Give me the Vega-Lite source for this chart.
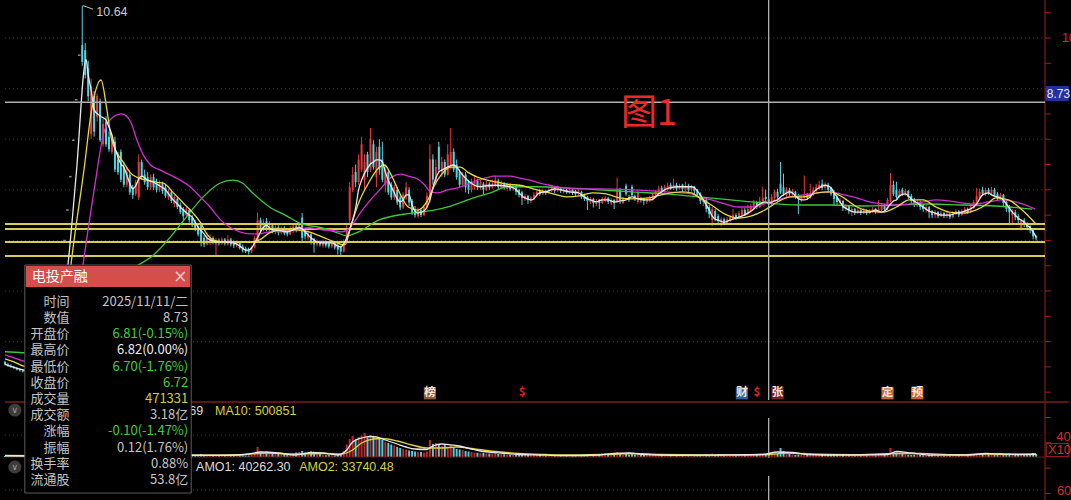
{
  "$schema": "https://vega.github.io/schema/vega-lite/v6.json",
  "width": 1050,
  "height": 500,
  "autosize": {"type": "none"},
  "padding": {"left": 0, "top": 0, "right": 21, "bottom": 0},
  "background": "#000000",
  "config": {"view": {"stroke": null}},
  "datasets": {
    "one": [{}],
    "k": [
      {"t":0,"o":3.60,"h":3.62,"l":3.53,"c":3.55,"v":180000},{"t":1,"o":3.55,"h":3.58,"l":3.50,"c":3.52,"v":160000},{"t":2,"o":3.52,"h":3.55,"l":3.48,"c":3.50,"v":150000},{"t":3,"o":3.50,"h":3.52,"l":3.46,"c":3.48,"v":150000},{"t":4,"o":3.48,"h":3.50,"l":3.43,"c":3.45,"v":170000},{"t":5,"o":3.45,"h":3.47,"l":3.41,"c":3.43,"v":140000},{"t":6,"o":3.43,"h":3.46,"l":3.39,"c":3.41,"v":150000},{"t":7,"o":3.41,"h":3.43,"l":3.37,"c":3.39,"v":140000},{"t":8,"o":3.39,"h":3.43,"l":3.37,"c":3.41,"v":150000},{"t":9,"o":3.41,"h":3.42,"l":3.36,"c":3.38,"v":140000},
      {"t":10,"o":3.38,"h":3.42,"l":3.36,"c":3.40,"v":130000},{"t":11,"o":3.40,"h":3.41,"l":3.35,"c":3.37,"v":140000},{"t":12,"o":3.37,"h":3.41,"l":3.35,"c":3.39,"v":150000},{"t":13,"o":3.39,"h":3.40,"l":3.34,"c":3.36,"v":140000},{"t":14,"o":3.36,"h":3.40,"l":3.34,"c":3.38,"v":160000},
      {"t":15,"o":3.72,"h":3.72,"l":3.72,"c":3.72,"v":40000},{"t":16,"o":4.09,"h":4.09,"l":4.09,"c":4.09,"v":30000},{"t":17,"o":4.50,"h":4.50,"l":4.50,"c":4.50,"v":30000},{"t":18,"o":4.95,"h":4.95,"l":4.95,"c":4.95,"v":30000},{"t":19,"o":5.45,"h":5.45,"l":5.45,"c":5.45,"v":30000},{"t":20,"o":6.00,"h":6.00,"l":6.00,"c":6.00,"v":30000},{"t":21,"o":6.60,"h":6.60,"l":6.60,"c":6.60,"v":40000},{"t":22,"o":7.26,"h":7.26,"l":7.26,"c":7.26,"v":40000},{"t":23,"o":7.98,"h":7.98,"l":7.98,"c":7.98,"v":50000},{"t":24,"o":8.78,"h":8.78,"l":8.78,"c":8.78,"v":60000},{"t":25,"o":9.66,"h":9.66,"l":9.66,"c":9.66,"v":80000},
      {"t":26,"o":9.86,"h":10.64,"l":9.45,"c":9.53,"v":9000000},{"t":27,"o":9.76,"h":9.90,"l":9.20,"c":9.27,"v":7500000},{"t":28,"o":9.40,"h":9.55,"l":8.75,"c":8.85,"v":6800000},{"t":29,"o":8.10,"h":9.20,"l":8.00,"c":9.05,"v":7000000},{"t":30,"o":8.85,"h":8.95,"l":8.05,"c":8.15,"v":6000000},{"t":31,"o":8.44,"h":8.90,"l":8.35,"c":8.85,"v":5200000},{"t":32,"o":8.75,"h":8.80,"l":7.95,"c":7.98,"v":5000000},{"t":33,"o":7.90,"h":8.40,"l":7.85,"c":8.30,"v":4600000},{"t":34,"o":8.35,"h":8.45,"l":7.85,"c":7.90,"v":4200000},{"t":35,"o":8.05,"h":8.15,"l":7.75,"c":7.80,"v":3800000},
      {"t":36,"o":7.75,"h":8.10,"l":7.70,"c":8.00,"v":3600000},{"t":37,"o":7.95,"h":8.05,"l":7.35,"c":7.40,"v":3500000},{"t":38,"o":7.60,"h":7.75,"l":7.30,"c":7.35,"v":3000000},{"t":39,"o":7.75,"h":7.80,"l":7.15,"c":7.20,"v":3200000},{"t":40,"o":7.45,"h":7.55,"l":7.05,"c":7.10,"v":2800000},{"t":41,"o":7.10,"h":7.45,"l":7.05,"c":7.35,"v":2600000},{"t":42,"o":7.30,"h":7.35,"l":6.90,"c":6.95,"v":2700000},{"t":43,"o":7.05,"h":7.10,"l":6.82,"c":6.90,"v":2400000},{"t":44,"o":6.92,"h":7.20,"l":6.88,"c":7.15,"v":2200000},{"t":45,"o":6.85,"h":7.70,"l":6.80,"c":7.55,"v":2900000},
      {"t":46,"o":7.55,"h":7.60,"l":7.20,"c":7.25,"v":2300000},{"t":47,"o":7.30,"h":7.40,"l":7.10,"c":7.15,"v":2100000},{"t":48,"o":7.25,"h":7.35,"l":7.00,"c":7.05,"v":2000000},{"t":49,"o":7.05,"h":7.30,"l":7.00,"c":7.25,"v":2100000},{"t":50,"o":7.25,"h":7.32,"l":7.00,"c":7.05,"v":1900000},{"t":51,"o":7.15,"h":7.22,"l":6.95,"c":7.00,"v":1800000},{"t":52,"o":7.00,"h":7.18,"l":6.96,"c":7.12,"v":1700000},{"t":53,"o":7.12,"h":7.16,"l":6.92,"c":6.98,"v":1800000},{"t":54,"o":7.05,"h":7.10,"l":6.84,"c":6.88,"v":1600000},{"t":55,"o":6.85,"h":7.02,"l":6.80,"c":6.98,"v":1500000},
      {"t":56,"o":6.95,"h":7.00,"l":6.74,"c":6.78,"v":1600000},{"t":57,"o":6.72,"h":6.90,"l":6.66,"c":6.86,"v":1400000},{"t":58,"o":6.82,"h":6.86,"l":6.62,"c":6.66,"v":1300000},{"t":59,"o":6.70,"h":6.75,"l":6.52,"c":6.56,"v":1400000},{"t":60,"o":6.62,"h":6.66,"l":6.40,"c":6.48,"v":1200000},{"t":61,"o":6.50,"h":6.66,"l":6.46,"c":6.62,"v":1300000},{"t":62,"o":6.60,"h":6.63,"l":6.35,"c":6.40,"v":1200000},{"t":63,"o":6.45,"h":6.50,"l":6.26,"c":6.30,"v":500000},{"t":64,"o":6.35,"h":6.40,"l":6.18,"c":6.22,"v":400000},{"t":65,"o":6.26,"h":6.30,"l":6.08,"c":6.12,"v":450000},
      {"t":66,"o":6.30,"h":6.35,"l":5.88,"c":5.95,"v":600000},{"t":67,"o":6.05,"h":6.10,"l":5.87,"c":5.92,"v":400000},{"t":68,"o":5.92,"h":6.10,"l":5.90,"c":6.05,"v":350000},{"t":69,"o":5.95,"h":6.12,"l":5.90,"c":6.05,"v":400000},{"t":70,"o":6.05,"h":6.08,"l":5.92,"c":5.95,"v":300000},{"t":71,"o":5.92,"h":6.05,"l":5.70,"c":6.00,"v":350000},{"t":72,"o":6.00,"h":6.04,"l":5.90,"c":5.94,"v":300000},{"t":73,"o":5.94,"h":6.06,"l":5.91,"c":6.02,"v":300000},{"t":74,"o":6.02,"h":6.05,"l":5.90,"c":5.94,"v":350000},{"t":75,"o":5.92,"h":6.10,"l":5.90,"c":6.02,"v":300000},
      {"t":76,"o":6.02,"h":6.05,"l":5.88,"c":5.92,"v":280000},{"t":77,"o":5.96,"h":6.00,"l":5.85,"c":5.90,"v":300000},{"t":78,"o":5.90,"h":6.00,"l":5.86,"c":5.96,"v":320000},{"t":79,"o":5.96,"h":5.98,"l":5.82,"c":5.85,"v":350000},{"t":80,"o":5.88,"h":5.92,"l":5.76,"c":5.80,"v":300000},{"t":81,"o":5.84,"h":5.88,"l":5.75,"c":5.78,"v":280000},{"t":82,"o":5.82,"h":5.86,"l":5.72,"c":5.77,"v":300000},{"t":83,"o":5.78,"h":5.90,"l":5.75,"c":5.86,"v":400000},{"t":84,"o":5.86,"h":6.08,"l":5.84,"c":6.05,"v":600000},{"t":85,"o":5.98,"h":6.55,"l":5.95,"c":6.40,"v":2000000},
      {"t":86,"o":6.40,"h":6.45,"l":6.15,"c":6.20,"v":900000},{"t":87,"o":6.20,"h":6.42,"l":6.18,"c":6.35,"v":800000},{"t":88,"o":6.38,"h":6.44,"l":6.18,"c":6.22,"v":1100000},{"t":89,"o":6.20,"h":6.38,"l":6.16,"c":6.30,"v":900000},{"t":90,"o":6.30,"h":6.33,"l":6.14,"c":6.18,"v":800000},{"t":91,"o":6.16,"h":6.30,"l":6.12,"c":6.26,"v":1000000},{"t":92,"o":6.26,"h":6.30,"l":6.10,"c":6.15,"v":700000},{"t":93,"o":6.15,"h":6.28,"l":6.12,"c":6.25,"v":900000},{"t":94,"o":6.25,"h":6.28,"l":6.10,"c":6.14,"v":800000},{"t":95,"o":6.20,"h":6.24,"l":6.08,"c":6.12,"v":600000},
      {"t":96,"o":6.12,"h":6.28,"l":6.10,"c":6.24,"v":500000},{"t":97,"o":6.18,"h":6.32,"l":6.15,"c":6.28,"v":450000},{"t":98,"o":6.28,"h":6.32,"l":6.16,"c":6.20,"v":900000},{"t":99,"o":6.20,"h":6.35,"l":6.18,"c":6.30,"v":1000000},{"t":100,"o":6.45,"h":6.54,"l":5.98,"c":6.05,"v":1200000},{"t":101,"o":6.20,"h":6.24,"l":6.02,"c":6.08,"v":900000},{"t":102,"o":6.05,"h":6.20,"l":6.00,"c":6.15,"v":800000},{"t":103,"o":6.12,"h":6.15,"l":5.92,"c":5.98,"v":1100000},{"t":104,"o":6.02,"h":6.05,"l":5.76,"c":5.92,"v":900000},{"t":105,"o":5.92,"h":6.02,"l":5.88,"c":5.98,"v":700000},
      {"t":106,"o":5.98,"h":6.00,"l":5.88,"c":5.92,"v":600000},{"t":107,"o":5.90,"h":6.02,"l":5.86,"c":5.98,"v":400000},{"t":108,"o":5.98,"h":6.00,"l":5.86,"c":5.90,"v":350000},{"t":109,"o":5.94,"h":5.97,"l":5.84,"c":5.88,"v":400000},{"t":110,"o":5.88,"h":6.00,"l":5.85,"c":5.96,"v":350000},{"t":111,"o":5.96,"h":5.98,"l":5.82,"c":5.86,"v":300000},{"t":112,"o":5.90,"h":5.94,"l":5.72,"c":5.82,"v":400000},{"t":113,"o":5.86,"h":5.90,"l":5.70,"c":5.78,"v":450000},{"t":114,"o":5.78,"h":6.02,"l":5.76,"c":5.96,"v":1200000},{"t":115,"o":5.95,"h":6.35,"l":5.92,"c":6.25,"v":2500000},
      {"t":116,"o":6.40,"h":7.15,"l":6.30,"c":7.05,"v":3600000},{"t":117,"o":7.00,"h":7.45,"l":6.95,"c":7.30,"v":4200000},{"t":118,"o":7.35,"h":7.50,"l":7.05,"c":7.15,"v":3400000},{"t":119,"o":7.15,"h":7.70,"l":7.10,"c":7.60,"v":4000000},{"t":120,"o":7.40,"h":8.05,"l":7.35,"c":7.90,"v":4300000},{"t":121,"o":7.20,"h":7.70,"l":7.00,"c":7.55,"v":4800000},{"t":122,"o":7.70,"h":7.75,"l":7.25,"c":7.35,"v":3900000},{"t":123,"o":7.40,"h":8.22,"l":7.35,"c":8.00,"v":4400000},{"t":124,"o":7.90,"h":7.98,"l":7.40,"c":7.45,"v":4100000},{"t":125,"o":7.25,"h":7.85,"l":7.05,"c":7.75,"v":3600000},
      {"t":126,"o":7.85,"h":8.00,"l":7.30,"c":7.40,"v":3800000},{"t":127,"o":7.60,"h":7.95,"l":7.15,"c":7.20,"v":3400000},{"t":128,"o":7.10,"h":7.50,"l":6.95,"c":7.40,"v":3000000},{"t":129,"o":7.35,"h":7.40,"l":6.90,"c":6.95,"v":2800000},{"t":130,"o":7.10,"h":7.15,"l":6.80,"c":6.85,"v":2500000},{"t":131,"o":6.85,"h":7.10,"l":6.80,"c":7.05,"v":2300000},{"t":132,"o":7.00,"h":7.05,"l":6.70,"c":6.75,"v":2000000},{"t":133,"o":6.85,"h":6.90,"l":6.60,"c":6.65,"v":1800000},{"t":134,"o":6.65,"h":6.95,"l":6.62,"c":6.90,"v":1600000},{"t":135,"o":6.85,"h":7.15,"l":6.80,"c":7.05,"v":1500000},
      {"t":136,"o":7.00,"h":7.05,"l":6.68,"c":6.75,"v":1300000},{"t":137,"o":6.78,"h":6.82,"l":6.50,"c":6.55,"v":1200000},{"t":138,"o":6.62,"h":6.68,"l":6.45,"c":6.50,"v":1100000},{"t":139,"o":6.48,"h":6.65,"l":6.45,"c":6.60,"v":1000000},{"t":140,"o":6.60,"h":6.64,"l":6.46,"c":6.50,"v":1000000},{"t":141,"o":6.50,"h":6.70,"l":6.48,"c":6.66,"v":900000},{"t":142,"o":6.65,"h":6.95,"l":6.60,"c":6.88,"v":1100000},{"t":143,"o":6.80,"h":7.90,"l":6.75,"c":7.60,"v":3400000},{"t":144,"o":7.60,"h":7.70,"l":7.10,"c":7.20,"v":2600000},{"t":145,"o":7.15,"h":7.60,"l":7.10,"c":7.45,"v":2800000},
      {"t":146,"o":7.85,"h":7.95,"l":7.35,"c":7.40,"v":2400000},{"t":147,"o":7.35,"h":7.65,"l":7.25,"c":7.55,"v":2200000},{"t":148,"o":7.55,"h":7.60,"l":7.25,"c":7.30,"v":2500000},{"t":149,"o":7.30,"h":7.90,"l":7.28,"c":7.70,"v":2000000},{"t":150,"o":7.45,"h":8.22,"l":7.40,"c":7.75,"v":2400000},{"t":151,"o":7.75,"h":7.82,"l":7.35,"c":7.40,"v":1900000},{"t":152,"o":7.50,"h":7.60,"l":7.20,"c":7.25,"v":1600000},{"t":153,"o":7.35,"h":7.40,"l":7.05,"c":7.10,"v":1500000},{"t":154,"o":7.10,"h":7.35,"l":7.05,"c":7.30,"v":1400000},{"t":155,"o":7.30,"h":7.35,"l":6.95,"c":7.05,"v":1200000},
      {"t":156,"o":7.15,"h":7.20,"l":6.92,"c":7.00,"v":1100000},{"t":157,"o":7.00,"h":7.22,"l":6.95,"c":7.15,"v":1000000},{"t":158,"o":7.05,"h":7.28,"l":7.00,"c":7.18,"v":900000},{"t":159,"o":7.18,"h":7.22,"l":7.00,"c":7.05,"v":850000},{"t":160,"o":7.05,"h":7.20,"l":7.00,"c":7.15,"v":800000},{"t":161,"o":7.12,"h":7.15,"l":6.90,"c":7.00,"v":800000},{"t":162,"o":7.00,"h":7.18,"l":6.98,"c":7.12,"v":750000},{"t":163,"o":7.12,"h":7.15,"l":7.00,"c":7.05,"v":700000},{"t":164,"o":7.05,"h":7.20,"l":7.02,"c":7.12,"v":700000},{"t":165,"o":7.08,"h":7.28,"l":7.05,"c":7.20,"v":800000},
      {"t":166,"o":7.18,"h":7.22,"l":7.00,"c":7.05,"v":600000},{"t":167,"o":7.05,"h":7.18,"l":7.02,"c":7.14,"v":600000},{"t":168,"o":7.12,"h":7.15,"l":7.00,"c":7.05,"v":550000},{"t":169,"o":7.02,"h":7.14,"l":6.98,"c":7.10,"v":500000},{"t":170,"o":7.10,"h":7.13,"l":6.98,"c":7.02,"v":500000},{"t":171,"o":7.02,"h":7.12,"l":6.98,"c":7.08,"v":450000},{"t":172,"o":7.06,"h":7.10,"l":6.90,"c":6.96,"v":500000},{"t":173,"o":7.00,"h":7.02,"l":6.85,"c":6.90,"v":450000},{"t":174,"o":6.95,"h":6.98,"l":6.70,"c":6.84,"v":600000},{"t":175,"o":6.82,"h":6.92,"l":6.78,"c":6.88,"v":400000},
      {"t":176,"o":6.88,"h":6.90,"l":6.72,"c":6.80,"v":400000},{"t":177,"o":6.78,"h":6.88,"l":6.74,"c":6.84,"v":350000},{"t":178,"o":6.82,"h":6.95,"l":6.80,"c":6.90,"v":400000},{"t":179,"o":6.88,"h":7.00,"l":6.85,"c":6.96,"v":450000},{"t":180,"o":6.98,"h":7.02,"l":6.88,"c":6.92,"v":400000},{"t":181,"o":6.92,"h":7.02,"l":6.90,"c":6.98,"v":350000},{"t":182,"o":6.98,"h":7.00,"l":6.90,"c":6.94,"v":300000},{"t":183,"o":6.94,"h":7.04,"l":6.92,"c":7.00,"v":350000},{"t":184,"o":6.98,"h":7.08,"l":6.96,"c":7.04,"v":400000},{"t":185,"o":7.04,"h":7.06,"l":6.94,"c":6.98,"v":350000},
      {"t":186,"o":6.98,"h":7.08,"l":6.96,"c":7.04,"v":300000},{"t":187,"o":7.04,"h":7.05,"l":6.94,"c":6.98,"v":300000},{"t":188,"o":6.96,"h":7.04,"l":6.93,"c":7.00,"v":350000},{"t":189,"o":7.00,"h":7.02,"l":6.92,"c":6.95,"v":300000},{"t":190,"o":6.95,"h":7.03,"l":6.92,"c":7.00,"v":300000},{"t":191,"o":7.00,"h":7.02,"l":6.90,"c":6.94,"v":350000},{"t":192,"o":6.98,"h":7.00,"l":6.88,"c":6.92,"v":300000},{"t":193,"o":6.92,"h":7.02,"l":6.90,"c":6.98,"v":350000},{"t":194,"o":6.96,"h":6.98,"l":6.82,"c":6.86,"v":400000},{"t":195,"o":6.90,"h":6.92,"l":6.78,"c":6.82,"v":350000},
      {"t":196,"o":6.86,"h":6.88,"l":6.60,"c":6.78,"v":450000},{"t":197,"o":6.76,"h":6.86,"l":6.72,"c":6.82,"v":400000},{"t":198,"o":6.82,"h":6.84,"l":6.65,"c":6.74,"v":350000},{"t":199,"o":6.72,"h":6.82,"l":6.68,"c":6.78,"v":400000},{"t":200,"o":6.80,"h":6.82,"l":6.62,"c":6.74,"v":600000},{"t":201,"o":6.74,"h":6.86,"l":6.72,"c":6.82,"v":700000},{"t":202,"o":6.78,"h":6.88,"l":6.75,"c":6.84,"v":800000},{"t":203,"o":6.84,"h":6.86,"l":6.72,"c":6.76,"v":700000},{"t":204,"o":6.74,"h":6.84,"l":6.70,"c":6.80,"v":600000},{"t":205,"o":6.80,"h":6.82,"l":6.62,"c":6.74,"v":700000},
      {"t":206,"o":6.78,"h":7.24,"l":6.74,"c":7.02,"v":1000000},{"t":207,"o":7.00,"h":7.04,"l":6.72,"c":6.80,"v":600000},{"t":208,"o":6.74,"h":6.86,"l":6.72,"c":6.82,"v":500000},{"t":209,"o":7.08,"h":7.12,"l":6.88,"c":6.92,"v":700000},{"t":210,"o":6.86,"h":6.90,"l":6.76,"c":6.80,"v":500000},{"t":211,"o":7.06,"h":7.10,"l":6.86,"c":6.90,"v":600000},{"t":212,"o":6.88,"h":6.90,"l":6.78,"c":6.82,"v":500000},{"t":213,"o":6.76,"h":6.98,"l":6.72,"c":6.94,"v":600000},{"t":214,"o":6.84,"h":6.86,"l":6.75,"c":6.80,"v":400000},{"t":215,"o":6.82,"h":6.84,"l":6.70,"c":6.78,"v":400000},
      {"t":216,"o":6.76,"h":6.85,"l":6.72,"c":6.82,"v":350000},{"t":217,"o":6.80,"h":6.88,"l":6.76,"c":6.86,"v":400000},{"t":218,"o":6.80,"h":6.95,"l":6.78,"c":6.90,"v":450000},{"t":219,"o":6.86,"h":7.00,"l":6.84,"c":6.96,"v":500000},{"t":220,"o":6.92,"h":7.08,"l":6.90,"c":7.02,"v":550000},{"t":221,"o":7.04,"h":7.08,"l":6.92,"c":6.96,"v":450000},{"t":222,"o":6.96,"h":7.10,"l":6.94,"c":7.06,"v":500000},{"t":223,"o":7.00,"h":7.14,"l":6.98,"c":7.08,"v":450000},{"t":224,"o":7.10,"h":7.14,"l":7.00,"c":7.02,"v":400000},{"t":225,"o":7.02,"h":7.22,"l":7.00,"c":7.10,"v":550000},
      {"t":226,"o":7.10,"h":7.14,"l":6.98,"c":7.02,"v":400000},{"t":227,"o":7.02,"h":7.12,"l":7.00,"c":7.08,"v":400000},{"t":228,"o":7.10,"h":7.12,"l":6.96,"c":7.02,"v":450000},{"t":229,"o":7.00,"h":7.16,"l":6.98,"c":7.08,"v":500000},{"t":230,"o":7.08,"h":7.12,"l":6.96,"c":7.00,"v":400000},{"t":231,"o":7.00,"h":7.10,"l":6.96,"c":7.06,"v":350000},{"t":232,"o":7.06,"h":7.08,"l":6.92,"c":6.98,"v":350000},{"t":233,"o":7.00,"h":7.02,"l":6.85,"c":6.90,"v":400000},{"t":234,"o":6.92,"h":6.95,"l":6.72,"c":6.78,"v":450000},{"t":235,"o":6.76,"h":6.86,"l":6.68,"c":6.82,"v":400000},
      {"t":236,"o":6.80,"h":6.84,"l":6.55,"c":6.62,"v":600000},{"t":237,"o":6.66,"h":6.70,"l":6.44,"c":6.52,"v":500000},{"t":238,"o":6.40,"h":6.66,"l":6.28,"c":6.62,"v":700000},{"t":239,"o":6.58,"h":6.62,"l":6.38,"c":6.44,"v":500000},{"t":240,"o":6.48,"h":6.52,"l":6.30,"c":6.38,"v":450000},{"t":241,"o":6.36,"h":6.46,"l":6.28,"c":6.42,"v":400000},{"t":242,"o":6.42,"h":6.45,"l":6.30,"c":6.34,"v":350000},{"t":243,"o":6.34,"h":6.46,"l":6.32,"c":6.42,"v":350000},{"t":244,"o":6.40,"h":6.50,"l":6.36,"c":6.46,"v":400000},{"t":245,"o":6.42,"h":6.62,"l":6.40,"c":6.50,"v":500000},
      {"t":246,"o":6.50,"h":6.54,"l":6.40,"c":6.44,"v":350000},{"t":247,"o":6.44,"h":6.58,"l":6.42,"c":6.54,"v":400000},{"t":248,"o":6.50,"h":6.64,"l":6.48,"c":6.60,"v":450000},{"t":249,"o":6.60,"h":6.64,"l":6.48,"c":6.52,"v":350000},{"t":250,"o":6.52,"h":6.70,"l":6.50,"c":6.62,"v":450000},{"t":251,"o":6.58,"h":6.72,"l":6.55,"c":6.68,"v":400000},{"t":252,"o":6.62,"h":6.80,"l":6.60,"c":6.74,"v":500000},{"t":253,"o":6.74,"h":6.78,"l":6.62,"c":6.66,"v":400000},{"t":254,"o":6.66,"h":6.86,"l":6.64,"c":6.78,"v":500000},{"t":255,"o":6.72,"h":7.06,"l":6.70,"c":6.84,"v":600000},
      {"t":256,"o":6.86,"h":7.00,"l":6.78,"c":6.82,"v":450000},{"t":257,"o":6.81,"h":6.82,"l":6.70,"c":6.72,"v":471331},{"t":258,"o":6.72,"h":6.92,"l":6.70,"c":6.86,"v":800000},{"t":259,"o":6.84,"h":7.00,"l":6.80,"c":6.96,"v":900000},{"t":260,"o":6.96,"h":7.02,"l":6.82,"c":6.86,"v":700000},{"t":261,"o":7.12,"h":7.55,"l":6.92,"c":6.96,"v":1800000},{"t":262,"o":7.05,"h":7.32,"l":6.88,"c":6.92,"v":1200000},{"t":263,"o":6.90,"h":7.05,"l":6.86,"c":7.00,"v":800000},{"t":264,"o":7.00,"h":7.04,"l":6.88,"c":6.92,"v":600000},{"t":265,"o":6.92,"h":7.02,"l":6.86,"c":6.98,"v":500000},
      {"t":266,"o":6.96,"h":6.98,"l":6.82,"c":6.86,"v":400000},{"t":267,"o":6.88,"h":6.92,"l":6.52,"c":6.82,"v":500000},{"t":268,"o":6.80,"h":6.90,"l":6.76,"c":6.86,"v":450000},{"t":269,"o":6.84,"h":7.28,"l":6.82,"c":6.92,"v":900000},{"t":270,"o":6.90,"h":6.94,"l":6.80,"c":6.84,"v":500000},{"t":271,"o":6.84,"h":7.12,"l":6.82,"c":6.94,"v":700000},{"t":272,"o":6.90,"h":7.06,"l":6.88,"c":7.00,"v":550000},{"t":273,"o":6.98,"h":7.12,"l":6.96,"c":7.06,"v":500000},{"t":274,"o":7.02,"h":7.18,"l":7.00,"c":7.10,"v":500000},{"t":275,"o":7.12,"h":7.20,"l":7.00,"c":7.04,"v":450000},
      {"t":276,"o":7.04,"h":7.15,"l":7.00,"c":7.10,"v":400000},{"t":277,"o":7.10,"h":7.14,"l":6.96,"c":7.00,"v":400000},{"t":278,"o":7.04,"h":7.06,"l":6.88,"c":6.92,"v":450000},{"t":279,"o":6.95,"h":7.00,"l":6.70,"c":6.82,"v":500000},{"t":280,"o":6.86,"h":6.90,"l":6.70,"c":6.76,"v":450000},{"t":281,"o":6.74,"h":6.84,"l":6.68,"c":6.80,"v":400000},{"t":282,"o":6.78,"h":6.80,"l":6.58,"c":6.64,"v":450000},{"t":283,"o":6.62,"h":6.72,"l":6.58,"c":6.68,"v":350000},{"t":284,"o":6.68,"h":6.70,"l":6.52,"c":6.58,"v":400000},{"t":285,"o":6.56,"h":6.66,"l":6.48,"c":6.62,"v":350000},
      {"t":286,"o":6.62,"h":6.64,"l":6.50,"c":6.55,"v":300000},{"t":287,"o":6.55,"h":6.64,"l":6.52,"c":6.60,"v":300000},{"t":288,"o":6.60,"h":6.62,"l":6.50,"c":6.54,"v":300000},{"t":289,"o":6.54,"h":6.64,"l":6.52,"c":6.60,"v":350000},{"t":290,"o":6.60,"h":6.62,"l":6.50,"c":6.54,"v":300000},{"t":291,"o":6.54,"h":6.62,"l":6.52,"c":6.58,"v":300000},{"t":292,"o":6.56,"h":6.66,"l":6.54,"c":6.62,"v":350000},{"t":293,"o":6.62,"h":6.64,"l":6.52,"c":6.56,"v":300000},{"t":294,"o":6.56,"h":6.80,"l":6.54,"c":6.62,"v":450000},{"t":295,"o":6.60,"h":6.74,"l":6.58,"c":6.70,"v":500000},
      {"t":296,"o":6.70,"h":6.72,"l":6.58,"c":6.62,"v":400000},{"t":297,"o":6.62,"h":6.84,"l":6.60,"c":6.80,"v":600000},{"t":298,"o":6.78,"h":7.33,"l":6.76,"c":7.10,"v":1800000},{"t":299,"o":7.10,"h":7.18,"l":6.88,"c":6.92,"v":1000000},{"t":300,"o":7.00,"h":7.16,"l":6.82,"c":6.86,"v":900000},{"t":301,"o":6.86,"h":7.02,"l":6.84,"c":6.98,"v":700000},{"t":302,"o":7.00,"h":7.04,"l":6.88,"c":6.92,"v":600000},{"t":303,"o":6.92,"h":7.02,"l":6.88,"c":6.98,"v":500000},{"t":304,"o":6.98,"h":7.00,"l":6.82,"c":6.86,"v":450000},{"t":305,"o":6.88,"h":6.92,"l":6.74,"c":6.78,"v":400000},
      {"t":306,"o":6.80,"h":6.84,"l":6.66,"c":6.72,"v":450000},{"t":307,"o":6.70,"h":6.80,"l":6.66,"c":6.76,"v":350000},{"t":308,"o":6.76,"h":6.78,"l":6.60,"c":6.66,"v":400000},{"t":309,"o":6.70,"h":6.72,"l":6.56,"c":6.62,"v":350000},{"t":310,"o":6.60,"h":6.70,"l":6.55,"c":6.66,"v":300000},{"t":311,"o":6.66,"h":6.68,"l":6.44,"c":6.56,"v":400000},{"t":312,"o":6.58,"h":6.60,"l":6.44,"c":6.50,"v":350000},{"t":313,"o":6.50,"h":6.60,"l":6.44,"c":6.56,"v":300000},{"t":314,"o":6.56,"h":6.58,"l":6.44,"c":6.48,"v":300000},{"t":315,"o":6.48,"h":6.58,"l":6.46,"c":6.54,"v":300000},
      {"t":316,"o":6.54,"h":6.56,"l":6.44,"c":6.48,"v":280000},{"t":317,"o":6.48,"h":6.56,"l":6.44,"c":6.52,"v":300000},{"t":318,"o":6.52,"h":6.54,"l":6.42,"c":6.46,"v":300000},{"t":319,"o":6.46,"h":6.58,"l":6.44,"c":6.54,"v":350000},{"t":320,"o":6.52,"h":6.62,"l":6.50,"c":6.58,"v":400000},{"t":321,"o":6.58,"h":6.60,"l":6.46,"c":6.50,"v":350000},{"t":322,"o":6.50,"h":6.62,"l":6.48,"c":6.58,"v":350000},{"t":323,"o":6.56,"h":6.66,"l":6.54,"c":6.62,"v":400000},{"t":324,"o":6.62,"h":6.65,"l":6.52,"c":6.56,"v":350000},{"t":325,"o":6.56,"h":6.72,"l":6.54,"c":6.66,"v":450000},
      {"t":326,"o":6.64,"h":6.80,"l":6.62,"c":6.76,"v":500000},{"t":327,"o":6.72,"h":7.04,"l":6.70,"c":6.88,"v":600000},{"t":328,"o":6.84,"h":7.02,"l":6.80,"c":6.96,"v":800000},{"t":329,"o":7.00,"h":7.06,"l":6.88,"c":6.92,"v":700000},{"t":330,"o":6.92,"h":7.04,"l":6.88,"c":7.00,"v":600000},{"t":331,"o":7.00,"h":7.04,"l":6.90,"c":6.94,"v":500000},{"t":332,"o":6.94,"h":7.06,"l":6.90,"c":7.00,"v":600000},{"t":333,"o":7.00,"h":7.04,"l":6.86,"c":6.90,"v":500000},{"t":334,"o":6.92,"h":6.96,"l":6.80,"c":6.84,"v":400000},{"t":335,"o":6.84,"h":6.94,"l":6.80,"c":6.90,"v":400000},
      {"t":336,"o":6.90,"h":6.92,"l":6.68,"c":6.74,"v":500000},{"t":337,"o":6.76,"h":6.80,"l":6.56,"c":6.62,"v":600000},{"t":338,"o":6.66,"h":6.70,"l":6.30,"c":6.56,"v":700000},{"t":339,"o":6.50,"h":6.62,"l":6.30,"c":6.58,"v":600000},{"t":340,"o":6.56,"h":6.60,"l":6.40,"c":6.46,"v":500000},{"t":341,"o":6.48,"h":6.52,"l":6.34,"c":6.40,"v":450000},{"t":342,"o":6.22,"h":6.42,"l":6.20,"c":6.40,"v":500000},{"t":343,"o":6.40,"h":6.44,"l":6.26,"c":6.32,"v":450000},{"t":344,"o":6.34,"h":6.36,"l":6.20,"c":6.26,"v":500000},{"t":345,"o":6.28,"h":6.30,"l":6.14,"c":6.20,"v":600000},
      {"t":346,"o":6.20,"h":6.24,"l":6.02,"c":6.08,"v":800000},{"t":347,"o":6.08,"h":6.10,"l":6.00,"c":6.04,"v":600000}
    ],
    "ma5": [
      {"t":0,"p":3.55},{"t":3,"p":3.49},{"t":6,"p":3.44},{"t":10,"p":3.40},{"t":14,"p":3.39},{"t":17,"p":3.9},{"t":19,"p":4.6},{"t":21,"p":5.42},{"t":24,"p":7.33},{"t":27.3,"p":9.57},{"t":28,"p":9.27},{"t":29,"p":8.97},{"t":30,"p":8.58},{"t":32,"p":8.46},{"t":34,"p":8.38},{"t":35,"p":8.24},{"t":36,"p":8.08},{"t":37,"p":7.83},{"t":38,"p":7.65},{"t":39,"p":7.51},{"t":40,"p":7.45},{"t":41,"p":7.29},{"t":42,"p":7.13},{"t":43,"p":7.02},{"t":44,"p":7.08},{"t":45,"p":7.21},{"t":46,"p":7.27},{"t":48,"p":7.19},{"t":50,"p":7.15},{"t":52,"p":7.08},{"t":54,"p":7.00},{"t":56,"p":6.84},{"t":58,"p":6.72},{"t":60,"p":6.60},{"t":62,"p":6.50},{"t":63,"p":6.46},{"t":64,"p":6.36},{"t":65,"p":6.26},{"t":66,"p":6.19},{"t":67,"p":6.13},{"t":68,"p":6.05},{"t":69,"p":6.01},{"t":71,"p":5.97},{"t":74,"p":5.97},{"t":77,"p":5.95},{"t":79,"p":5.89},{"t":81,"p":5.81},{"t":82,"p":5.81},{"t":83,"p":5.85},{"t":84,"p":5.95},{"t":85,"p":6.05},{"t":86,"p":6.17},{"t":87,"p":6.26},{"t":88,"p":6.30},{"t":89,"p":6.25},{"t":90,"p":6.21},{"t":93,"p":6.19},{"t":95,"p":6.17},{"t":97,"p":6.21},{"t":99,"p":6.25},{"t":100,"p":6.23},{"t":101,"p":6.17},{"t":102,"p":6.11},{"t":103,"p":6.05},{"t":104,"p":6.01},{"t":105,"p":5.97},{"t":107,"p":5.95},{"t":110,"p":5.95},{"t":112,"p":5.89},{"t":113,"p":5.87},{"t":114,"p":5.93},{"t":115,"p":6.05},{"t":116,"p":6.21},{"t":117,"p":6.40},{"t":118,"p":6.64},{"t":119,"p":7.00},{"t":120,"p":7.19},{"t":121,"p":7.33},{"t":122,"p":7.43},{"t":123,"p":7.51},{"t":124,"p":7.55},{"t":125,"p":7.59},{"t":126,"p":7.59},{"t":127,"p":7.55},{"t":128,"p":7.35},{"t":129,"p":7.19},{"t":130,"p":7.06},{"t":131,"p":6.94},{"t":132,"p":6.82},{"t":133,"p":6.76},{"t":134,"p":6.80},{"t":135,"p":6.90},{"t":136,"p":6.90},{"t":137,"p":6.70},{"t":138,"p":6.58},{"t":139,"p":6.54},{"t":140,"p":6.56},{"t":141,"p":6.58},{"t":142,"p":6.66},{"t":143,"p":6.80},{"t":144,"p":7.04},{"t":145,"p":7.23},{"t":146,"p":7.35},{"t":147,"p":7.39},{"t":149,"p":7.45},{"t":151,"p":7.49},{"t":152,"p":7.45},{"t":153,"p":7.37},{"t":154,"p":7.29},{"t":155,"p":7.23},{"t":156,"p":7.17},{"t":157,"p":7.13},{"t":158,"p":7.09},{"t":160,"p":7.06},{"t":162,"p":7.08},{"t":165,"p":7.09},{"t":168,"p":7.08},{"t":170,"p":7.06},{"t":171,"p":7.04},{"t":172,"p":7.00},{"t":173,"p":6.94},{"t":174,"p":6.88},{"t":175,"p":6.84},{"t":177,"p":6.80},{"t":178,"p":6.82},{"t":179,"p":6.90},{"t":180,"p":6.94},{"t":182,"p":6.96},{"t":185,"p":7.02},{"t":187,"p":7.00},{"t":190,"p":6.96},{"t":193,"p":6.94},{"t":194,"p":6.90},{"t":195,"p":6.86},{"t":196,"p":6.82},{"t":197,"p":6.80},{"t":199,"p":6.76},{"t":201,"p":6.80},{"t":203,"p":6.80},{"t":205,"p":6.76},{"t":207,"p":6.78},{"t":209,"p":6.80},{"t":211,"p":6.86},{"t":213,"p":6.82},{"t":215,"p":6.80},{"t":217,"p":6.80},{"t":219,"p":6.86},{"t":220,"p":6.92},{"t":221,"p":6.96},{"t":222,"p":7.00},{"t":224,"p":7.04},{"t":226,"p":7.06},{"t":231,"p":7.06},{"t":232,"p":7.04},{"t":233,"p":6.98},{"t":234,"p":6.90},{"t":235,"p":6.80},{"t":236,"p":6.70},{"t":237,"p":6.60},{"t":238,"p":6.48},{"t":239,"p":6.42},{"t":240,"p":6.40},{"t":242,"p":6.36},{"t":244,"p":6.40},{"t":246,"p":6.44},{"t":248,"p":6.48},{"t":250,"p":6.54},{"t":252,"p":6.62},{"t":253,"p":6.68},{"t":254,"p":6.72},{"t":256,"p":6.76},{"t":257,"p":6.74},{"t":259,"p":6.78},{"t":260,"p":6.80},{"t":261,"p":6.86},{"t":262,"p":6.90},{"t":264,"p":6.96},{"t":265,"p":6.94},{"t":266,"p":6.88},{"t":268,"p":6.80},{"t":269,"p":6.80},{"t":271,"p":6.86},{"t":272,"p":6.94},{"t":273,"p":7.00},{"t":274,"p":7.04},{"t":276,"p":7.09},{"t":277,"p":7.08},{"t":278,"p":7.04},{"t":279,"p":6.94},{"t":280,"p":6.86},{"t":281,"p":6.76},{"t":282,"p":6.68},{"t":284,"p":6.60},{"t":286,"p":6.56},{"t":291,"p":6.56},{"t":293,"p":6.60},{"t":295,"p":6.56},{"t":296,"p":6.58},{"t":297,"p":6.64},{"t":298,"p":6.72},{"t":299,"p":6.78},{"t":300,"p":6.80},{"t":301,"p":6.88},{"t":303,"p":6.92},{"t":304,"p":6.88},{"t":305,"p":6.82},{"t":307,"p":6.74},{"t":309,"p":6.66},{"t":311,"p":6.58},{"t":313,"p":6.54},{"t":315,"p":6.50},{"t":318,"p":6.50},{"t":320,"p":6.54},{"t":322,"p":6.56},{"t":324,"p":6.60},{"t":326,"p":6.66},{"t":327,"p":6.72},{"t":328,"p":6.82},{"t":329,"p":6.90},{"t":331,"p":6.94},{"t":332,"p":6.90},{"t":334,"p":6.86},{"t":336,"p":6.80},{"t":337,"p":6.72},{"t":338,"p":6.64},{"t":339,"p":6.56},{"t":340,"p":6.50},{"t":341,"p":6.44},{"t":342,"p":6.40},{"t":343,"p":6.36},{"t":344,"p":6.30},{"t":345,"p":6.25},{"t":346,"p":6.17},{"t":347,"p":6.07}
    ],
    "ma10": [
      {"t":0,"p":3.66},{"t":3,"p":3.60},{"t":6,"p":3.52},{"t":10,"p":3.45},{"t":14,"p":3.40},{"t":18,"p":3.70},{"t":20,"p":4.30},{"t":22,"p":5.42},{"t":26.7,"p":7.45},{"t":29,"p":8.52},{"t":32.3,"p":9.17},{"t":34.3,"p":8.58},{"t":35.7,"p":8.04},{"t":37.7,"p":7.73},{"t":40,"p":7.53},{"t":42.3,"p":7.33},{"t":44.3,"p":7.25},{"t":47.7,"p":7.19},{"t":51,"p":7.15},{"t":53.3,"p":7.13},{"t":56.7,"p":6.94},{"t":60,"p":6.74},{"t":63.3,"p":6.54},{"t":65.7,"p":6.36},{"t":67.7,"p":6.15},{"t":70,"p":6.01},{"t":73.3,"p":5.97},{"t":77.7,"p":5.97},{"t":82.3,"p":5.97},{"t":85.7,"p":6.01},{"t":89,"p":6.15},{"t":93.3,"p":6.21},{"t":97.7,"p":6.21},{"t":102.3,"p":6.17},{"t":106.7,"p":6.07},{"t":111,"p":5.97},{"t":114.3,"p":5.91},{"t":116.7,"p":6.34},{"t":119,"p":6.74},{"t":122.3,"p":7.13},{"t":125.7,"p":7.43},{"t":127.7,"p":7.49},{"t":130,"p":7.29},{"t":132.3,"p":7.00},{"t":135.7,"p":6.66},{"t":139,"p":6.60},{"t":142.3,"p":6.80},{"t":144.3,"p":7.06},{"t":146.7,"p":7.29},{"t":150,"p":7.45},{"t":153.3,"p":7.45},{"t":155.7,"p":7.35},{"t":159,"p":7.25},{"t":162.3,"p":7.19},{"t":165.7,"p":7.15},{"t":169,"p":7.11},{"t":173.3,"p":7.09},{"t":177.7,"p":7.02},{"t":183.3,"p":6.94},{"t":189,"p":6.86},{"t":193.3,"p":6.88},{"t":197.7,"p":6.94},{"t":202.3,"p":6.92},{"t":206.7,"p":6.84},{"t":211,"p":6.82},{"t":216.7,"p":6.84},{"t":222.3,"p":6.92},{"t":227.7,"p":6.96},{"t":231,"p":6.94},{"t":233.3,"p":6.86},{"t":237.7,"p":6.70},{"t":242.3,"p":6.52},{"t":246.7,"p":6.44},{"t":251,"p":6.48},{"t":255.7,"p":6.60},{"t":260,"p":6.76},{"t":264.3,"p":6.86},{"t":269,"p":6.86},{"t":273.3,"p":6.94},{"t":277.7,"p":6.96},{"t":282.3,"p":6.84},{"t":286.7,"p":6.66},{"t":291,"p":6.58},{"t":295.7,"p":6.56},{"t":300,"p":6.66},{"t":304.3,"p":6.80},{"t":309,"p":6.80},{"t":313.3,"p":6.66},{"t":317.7,"p":6.56},{"t":322.3,"p":6.54},{"t":326.7,"p":6.60},{"t":331,"p":6.74},{"t":333.3,"p":6.84},{"t":337.7,"p":6.80},{"t":342.3,"p":6.60},{"t":346.7,"p":6.34}
    ],
    "ma20": [
      {"t":0,"p":3.74},{"t":3,"p":3.68},{"t":6,"p":3.62},{"t":10,"p":3.56},{"t":14,"p":3.52},{"t":20,"p":3.8},{"t":24,"p":4.6},{"t":26,"p":5.42},{"t":30,"p":7.00},{"t":33.3,"p":8.14},{"t":36,"p":8.42},{"t":39.3,"p":8.50},{"t":42.3,"p":8.34},{"t":44.3,"p":8.00},{"t":46.7,"p":7.67},{"t":49,"p":7.49},{"t":52.3,"p":7.39},{"t":55.7,"p":7.29},{"t":59,"p":7.19},{"t":62.3,"p":7.06},{"t":65.7,"p":6.86},{"t":69,"p":6.66},{"t":72.3,"p":6.42},{"t":75.7,"p":6.26},{"t":79,"p":6.17},{"t":82.3,"p":6.13},{"t":85.7,"p":6.13},{"t":89,"p":6.17},{"t":93.3,"p":6.19},{"t":97.7,"p":6.21},{"t":102.3,"p":6.25},{"t":106.7,"p":6.21},{"t":111,"p":6.19},{"t":113.3,"p":6.17},{"t":115.7,"p":6.23},{"t":117.7,"p":6.38},{"t":120,"p":6.58},{"t":123.3,"p":6.82},{"t":126.7,"p":7.04},{"t":130,"p":7.25},{"t":133.3,"p":7.31},{"t":135.7,"p":7.27},{"t":139,"p":7.21},{"t":141,"p":7.11},{"t":143.3,"p":6.96},{"t":145.7,"p":6.94},{"t":149,"p":7.00},{"t":152.3,"p":7.04},{"t":155.7,"p":7.11},{"t":159,"p":7.19},{"t":162.3,"p":7.24},{"t":164.3,"p":7.27},{"t":166.7,"p":7.27},{"t":170,"p":7.27},{"t":173.3,"p":7.23},{"t":176.7,"p":7.19},{"t":180,"p":7.13},{"t":183.3,"p":7.09},{"t":187.7,"p":7.04},{"t":192.3,"p":7.02},{"t":200,"p":7.02},{"t":211,"p":7.00},{"t":222.3,"p":6.96},{"t":231,"p":6.92},{"t":233.3,"p":6.86},{"t":237.7,"p":6.80},{"t":242.3,"p":6.72},{"t":246.7,"p":6.66},{"t":251,"p":6.66},{"t":255.7,"p":6.72},{"t":260,"p":6.80},{"t":264.3,"p":6.86},{"t":269,"p":6.90},{"t":273.3,"p":6.94},{"t":277.7,"p":6.96},{"t":282.3,"p":6.90},{"t":286.7,"p":6.84},{"t":291,"p":6.76},{"t":295.7,"p":6.72},{"t":300,"p":6.70},{"t":304.3,"p":6.72},{"t":309,"p":6.76},{"t":313.3,"p":6.80},{"t":317.7,"p":6.78},{"t":322.3,"p":6.74},{"t":326.7,"p":6.72},{"t":331,"p":6.76},{"t":335.7,"p":6.80},{"t":340,"p":6.76},{"t":342.3,"p":6.72},{"t":346.7,"p":6.62}
    ],
    "ma60": [
      {"t":0,"p":3.80},{"t":6,"p":3.78},{"t":14,"p":3.74},{"t":25,"p":4.3},{"t":35,"p":4.9},{"t":42.7,"p":5.42},{"t":50,"p":5.71},{"t":55.7,"p":6.07},{"t":61,"p":6.46},{"t":66.7,"p":6.86},{"t":72.3,"p":7.13},{"t":76.7,"p":7.19},{"t":80,"p":7.13},{"t":83.3,"p":6.94},{"t":89,"p":6.66},{"t":94.3,"p":6.50},{"t":100,"p":6.32},{"t":105.7,"p":6.26},{"t":111,"p":6.17},{"t":115,"p":6.09},{"t":119,"p":6.17},{"t":125.7,"p":6.40},{"t":136.7,"p":6.54},{"t":144.3,"p":6.60},{"t":150,"p":6.68},{"t":157.7,"p":6.84},{"t":164.3,"p":6.96},{"t":169,"p":7.06},{"t":177.7,"p":7.06},{"t":189,"p":7.04},{"t":200,"p":7.00},{"t":211,"p":6.96},{"t":222.3,"p":6.92},{"t":233.3,"p":6.86},{"t":244.3,"p":6.80},{"t":255.7,"p":6.74},{"t":266.7,"p":6.70},{"t":277.7,"p":6.70},{"t":289,"p":6.68},{"t":300,"p":6.70},{"t":311,"p":6.72},{"t":322.3,"p":6.70},{"t":333.3,"p":6.68},{"t":345.7,"p":6.62}
    ],
    "vma5": [
      {"t":0,"v":250000},{"t":10,"v":200000},{"t":20,"v":100000},{"t":30,"v":3000000},{"t":50,"v":1500000},{"t":60,"v":600000},{"t":63,"v":350000},{"t":75,"v":350000},{"t":82,"v":600000},{"t":86,"v":1000000},{"t":92,"v":800000},{"t":97,"v":400000},{"t":100,"v":600000},{"t":103,"v":900000},{"t":107,"v":800000},{"t":112,"v":400000},{"t":115,"v":1400000},{"t":117,"v":3000000},{"t":120,"v":3800000},{"t":123,"v":4100000},{"t":125,"v":4000000},{"t":128,"v":3400000},{"t":132,"v":2600000},{"t":135,"v":2000000},{"t":138,"v":1600000},{"t":142,"v":1500000},{"t":144,"v":2200000},{"t":147,"v":2600000},{"t":149,"v":2500000},{"t":153,"v":2200000},{"t":157,"v":1600000},{"t":160,"v":1200000},{"t":167,"v":800000},{"t":173,"v":500000},{"t":180,"v":400000},{"t":187,"v":300000},{"t":200,"v":400000},{"t":205,"v":700000},{"t":210,"v":800000},{"t":215,"v":500000},{"t":225,"v":350000},{"t":240,"v":400000},{"t":255,"v":500000},{"t":260,"v":1000000},{"t":265,"v":900000},{"t":270,"v":500000},{"t":280,"v":400000},{"t":297,"v":500000},{"t":300,"v":1100000},{"t":305,"v":800000},{"t":312,"v":400000},{"t":325,"v":400000},{"t":330,"v":700000},{"t":335,"v":600000},{"t":340,"v":500000},{"t":347,"v":600000}
    ],
    "vma10": [
      {"t":0,"v":300000},{"t":10,"v":250000},{"t":20,"v":150000},{"t":30,"v":1500000},{"t":50,"v":2000000},{"t":60,"v":800000},{"t":63,"v":350000},{"t":80,"v":450000},{"t":88,"v":800000},{"t":97,"v":600000},{"t":107,"v":700000},{"t":113,"v":600000},{"t":117,"v":1400000},{"t":120,"v":2800000},{"t":124,"v":3600000},{"t":127,"v":3700000},{"t":132,"v":3200000},{"t":137,"v":2400000},{"t":142,"v":1800000},{"t":147,"v":1800000},{"t":152,"v":2000000},{"t":157,"v":1700000},{"t":162,"v":1300000},{"t":167,"v":1000000},{"t":173,"v":700000},{"t":182,"v":500000},{"t":190,"v":400000},{"t":205,"v":550000},{"t":212,"v":700000},{"t":220,"v":500000},{"t":240,"v":400000},{"t":258,"v":550000},{"t":263,"v":800000},{"t":270,"v":600000},{"t":285,"v":450000},{"t":300,"v":700000},{"t":308,"v":700000},{"t":320,"v":450000},{"t":330,"v":600000},{"t":340,"v":550000},{"t":347,"v":500000}
    ],
    "grid": [{"p":4},{"p":5},{"p":6},{"p":7},{"p":8},{"p":9},{"p":10}],
    "ticks": [{"p":1},{"p":1.5},{"p":2},{"p":2.5},{"p":3},{"p":3.5},{"p":4},{"p":4.5},{"p":5},{"p":5.5},{"p":6},{"p":6.5},{"p":7},{"p":7.5},{"p":8},{"p":8.5},{"p":9},{"p":9.5},{"p":10},{"p":10.5}],
    "levels": [{"p":6.324},{"p":6.225},{"p":5.968},{"p":5.692}],
    "tags": [{"t":143,"k":"榜"},{"t":174,"k":"$"},{"t":248,"k":"财"},{"t":253,"k":"$"},{"t":260,"k":"张"},{"t":297,"k":"定"},{"t":307,"k":"预"}],
    "info": [
      {"i":0,"name":"时间","val":"2025/11/11/二","tone":"plain"},
      {"i":1,"name":"数值","val":"8.73","tone":"plain"},
      {"i":2,"name":"开盘价","val":"6.81(-0.15%)","tone":"down"},
      {"i":3,"name":"最高价","val":"6.82(0.00%)","tone":"flat"},
      {"i":4,"name":"最低价","val":"6.70(-1.76%)","tone":"down"},
      {"i":5,"name":"收盘价","val":"6.72","tone":"down"},
      {"i":6,"name":"成交量","val":"471331","tone":"vol"},
      {"i":7,"name":"成交额","val":"3.18亿","tone":"plain"},
      {"i":8,"name":"涨幅","val":"-0.10(-1.47%)","tone":"down"},
      {"i":9,"name":"振幅","val":"0.12(1.76%)","tone":"plain"},
      {"i":10,"name":"换手率","val":"0.88%","tone":"plain"},
      {"i":11,"name":"流通股","val":"53.8亿","tone":"plain"}
    ]
  },
  "resolve": {"scale": {"y": "independent", "color": "independent"}},
  "layer": [
    {
      "layer": [
        {
          "data": {"name": "grid"},
          "mark": {"type": "rule", "color": "#741818", "strokeDash": [1, 3], "strokeWidth": 1},
          "encoding": {
            "x": {"datum": 0, "type": "quantitative", "scale": {"domain": [0, 350], "nice": false, "zero": false}, "axis": null},
            "x2": {"datum": 350},
            "y": {"field": "p", "type": "quantitative", "scale": {"domain": [0.87, 10.751], "nice": false, "zero": false}, "axis": null}
          }
        },
        {
          "data": {"name": "one"},
          "mark": {"type": "rule", "color": "#a01c1c", "strokeWidth": 1},
          "encoding": {
            "x": {"datum": 350, "type": "quantitative"},
            "y": {"datum": 10.751, "type": "quantitative", "axis": null}, "y2": {"datum": 0.87}
          }
        },
        {
          "data": {"name": "ticks"},
          "mark": {"type": "rule", "color": "#a01c1c", "strokeWidth": 1},
          "encoding": {
            "x": {"datum": 350, "type": "quantitative"}, "x2": {"datum": 352},
            "y": {"field": "p", "type": "quantitative", "axis": null}
          }
        },
        {
          "data": {"name": "one"},
          "mark": {"type": "text", "font": "Liberation Sans", "fontSize": 13, "color": "#d42a2a", "align": "left", "baseline": "middle"},
          "encoding": {
            "x": {"datum": 355.6, "type": "quantitative"},
            "y": {"datum": 10, "type": "quantitative", "axis": null},
            "text": {"value": "10.00"}
          }
        },
        {
          "data": {"name": "one"},
          "mark": {"type": "rule", "color": "#741818", "strokeDash": [1, 3]},
          "encoding": {
            "x": {"datum": 0, "type": "quantitative"}, "x2": {"datum": 350},
            "y": {"datum": 2.154, "type": "quantitative", "axis": null}
          }
        },
        {
          "data": {"name": "one"},
          "mark": {"type": "rule", "color": "#741818", "strokeDash": [1, 3]},
          "encoding": {
            "x": {"datum": 0, "type": "quantitative"}, "x2": {"datum": 350},
            "y": {"datum": 1.067, "type": "quantitative", "axis": null}
          }
        },
        {
          "data": {"name": "one"},
          "mark": {"type": "rule", "color": "#7e1c1c", "strokeWidth": 1.5},
          "encoding": {
            "x": {"datum": 0, "type": "quantitative"}, "x2": {"datum": 358},
            "y": {"datum": 2.806, "type": "quantitative", "axis": null}
          }
        },
        {
          "data": {"name": "k"},
          "mark": {"type": "rule", "strokeWidth": 1},
          "encoding": {
            "x": {"field": "t", "type": "quantitative"},
            "y": {"field": "l", "type": "quantitative", "axis": null},
            "y2": {"field": "h"},
            "color": {"condition": {"test": "datum.c >= datum.o", "value": "#e83a3c"}, "value": "#56d2de"}
          }
        },
        {
          "data": {"name": "k"},
          "transform": [{"filter": "datum.o != datum.c"}],
          "mark": {"type": "bar", "size": 2},
          "encoding": {
            "x": {"field": "t", "type": "quantitative"},
            "y": {"field": "o", "type": "quantitative", "axis": null},
            "y2": {"field": "c"},
            "color": {"condition": {"test": "datum.c >= datum.o", "value": "#e83a3c"}, "value": "#56d2de"}
          }
        },
        {
          "data": {"name": "k"},
          "transform": [{"filter": "datum.o == datum.c"}],
          "mark": {"type": "tick", "orient": "horizontal", "size": 2.5, "thickness": 1.5, "color": "#c4c4c4"},
          "encoding": {
            "x": {"field": "t", "type": "quantitative"},
            "y": {"field": "c", "type": "quantitative", "axis": null}
          }
        },
        {
          "data": {"name": "levels"},
          "mark": {"type": "rule", "color": "#d6cc52", "strokeWidth": 2},
          "encoding": {
            "x": {"datum": 0, "type": "quantitative"}, "x2": {"datum": 350},
            "y": {"field": "p", "type": "quantitative", "axis": null}
          }
        },
        {
          "data": {"name": "ma60"},
          "mark": {"type": "line", "color": "#3cc83c", "strokeWidth": 1.3, "interpolate": "monotone"},
          "encoding": {"x": {"field": "t", "type": "quantitative"}, "y": {"field": "p", "type": "quantitative", "axis": null}}
        },
        {
          "data": {"name": "ma20"},
          "mark": {"type": "line", "color": "#d02ed0", "strokeWidth": 1.3, "interpolate": "monotone"},
          "encoding": {"x": {"field": "t", "type": "quantitative"}, "y": {"field": "p", "type": "quantitative", "axis": null}}
        },
        {
          "data": {"name": "ma10"},
          "mark": {"type": "line", "color": "#e4da3a", "strokeWidth": 1.3, "interpolate": "monotone"},
          "encoding": {"x": {"field": "t", "type": "quantitative"}, "y": {"field": "p", "type": "quantitative", "axis": null}}
        },
        {
          "data": {"name": "ma5"},
          "mark": {"type": "line", "color": "#e8e8e8", "strokeWidth": 1.3, "interpolate": "monotone"},
          "encoding": {"x": {"field": "t", "type": "quantitative"}, "y": {"field": "p", "type": "quantitative", "axis": null}}
        },
        {
          "data": {"name": "one"},
          "mark": {"type": "rule", "color": "#b0b0b0", "strokeWidth": 1.3},
          "encoding": {
            "x": {"datum": 0, "type": "quantitative"}, "x2": {"datum": 350},
            "y": {"datum": 8.73, "type": "quantitative", "axis": null}
          }
        },
        {
          "data": {"name": "one"},
          "mark": {"type": "rule", "color": "#b0b0b0", "strokeWidth": 1.3},
          "encoding": {
            "x": {"datum": 257, "type": "quantitative"},
            "y": {"datum": 10.751, "type": "quantitative", "axis": null}, "y2": {"datum": 2.846}
          }
        },
        {
          "data": {"name": "one"},
          "mark": {"type": "rule", "color": "#b0b0b0", "strokeWidth": 1.3},
          "encoding": {
            "x": {"datum": 257, "type": "quantitative"},
            "y": {"datum": 2.49, "type": "quantitative", "axis": null}, "y2": {"datum": 1.70}
          }
        },
        {
          "data": {"name": "one"},
          "mark": {"type": "rule", "color": "#b0b0b0", "strokeWidth": 1.3},
          "encoding": {
            "x": {"datum": 257, "type": "quantitative"},
            "y": {"datum": 1.344, "type": "quantitative", "axis": null}, "y2": {"datum": 0.87}
          }
        },
        {
          "data": {"name": "one"},
          "mark": {"type": "text", "font": "Noto Sans CJK SC", "fontSize": 36, "color": "#e82a2a", "align": "center", "baseline": "middle"},
          "encoding": {
            "x": {"datum": 216.7, "type": "quantitative"},
            "y": {"datum": 8.5, "type": "quantitative", "axis": null},
            "text": {"value": "图1"}
          }
        },
        {
          "data": {"name": "k"},
          "transform": [{"filter": "datum.t == 26"}],
          "mark": {"type": "text", "font": "Liberation Sans", "fontSize": 12.5, "color": "#cccccc", "align": "left", "baseline": "middle", "dx": 14, "dy": 6.5},
          "encoding": {
            "x": {"field": "t", "type": "quantitative"},
            "y": {"field": "h", "type": "quantitative", "axis": null},
            "text": {"field": "h", "type": "quantitative", "format": ".2f"}
          }
        },
        {
          "data": {"name": "one"},
          "mark": {"type": "rule", "color": "#c4c4c4", "strokeWidth": 1},
          "encoding": {
            "x": {"datum": 26.2, "type": "quantitative"}, "x2": {"datum": 29.6},
            "y": {"datum": 10.64, "type": "quantitative", "axis": null}, "y2": {"datum": 10.57}
          }
        },
        {
          "data": {"name": "one"},
          "mark": {"type": "rect", "color": "#22329c"},
          "encoding": {
            "x": {"datum": 350.2, "type": "quantitative"}, "x2": {"datum": 358},
            "y": {"datum": 9.051, "type": "quantitative", "axis": null}, "y2": {"datum": 8.755}
          }
        },
        {
          "data": {"name": "one"},
          "mark": {"type": "text", "font": "Liberation Sans", "fontSize": 12, "color": "#e8e8ff", "align": "left", "baseline": "middle"},
          "encoding": {
            "x": {"datum": 350.6, "type": "quantitative"},
            "y": {"datum": 8.903, "type": "quantitative", "axis": null},
            "text": {"value": "8.73"}
          }
        },
        {
          "data": {"name": "tags"},
          "transform": [{"filter": "datum.k != '$'"}],
          "mark": {"type": "point", "shape": "square", "size": 150, "filled": true, "opacity": 1},
          "encoding": {
            "x": {"field": "t", "type": "quantitative"},
            "y": {"datum": 2.98, "type": "quantitative", "axis": null},
            "color": {"field": "k", "type": "nominal", "legend": null,
              "scale": {"domain": ["榜", "财", "张", "定", "预"], "range": ["#8c5a34", "#2f5f9e", "#7c2024", "#c9652f", "#c9652f"]}}
          }
        },
        {
          "data": {"name": "tags"},
          "mark": {"type": "text", "font": "Noto Sans CJK SC", "fontSize": 11.5, "align": "center", "baseline": "middle", "fontWeight": "bold"},
          "encoding": {
            "x": {"field": "t", "type": "quantitative"},
            "y": {"datum": 2.98, "type": "quantitative", "axis": null},
            "text": {"field": "k"},
            "color": {"condition": {"test": "datum.k == '$'", "value": "#e02222"}, "value": "#f4e6dc"}
          }
        },
        {
          "data": {"name": "one"},
          "mark": {"type": "text", "font": "Liberation Sans", "fontSize": 12.5, "color": "#dcdcdc", "align": "right", "baseline": "middle"},
          "encoding": {
            "x": {"datum": 66.7, "type": "quantitative"},
            "y": {"datum": 2.628, "type": "quantitative", "axis": null},
            "text": {"value": "69"}
          }
        },
        {
          "data": {"name": "one"},
          "mark": {"type": "text", "font": "Liberation Sans", "fontSize": 12.5, "color": "#d8d040", "align": "left", "baseline": "middle"},
          "encoding": {
            "x": {"datum": 70.7, "type": "quantitative"},
            "y": {"datum": 2.628, "type": "quantitative", "axis": null},
            "text": {"value": "MA10: 500851"}
          }
        },
        {
          "data": {"name": "one"},
          "mark": {"type": "text", "font": "Liberation Sans", "fontSize": 12.5, "color": "#dcdcdc", "align": "left", "baseline": "middle"},
          "encoding": {
            "x": {"datum": 64.3, "type": "quantitative"},
            "y": {"datum": 1.522, "type": "quantitative", "axis": null},
            "text": {"value": "AMO1: 40262.30"}
          }
        },
        {
          "data": {"name": "one"},
          "mark": {"type": "text", "font": "Liberation Sans", "fontSize": 12.5, "color": "#d8d040", "align": "left", "baseline": "middle"},
          "encoding": {
            "x": {"datum": 99, "type": "quantitative"},
            "y": {"datum": 1.522, "type": "quantitative", "axis": null},
            "text": {"value": "AMO2: 33740.48"}
          }
        },
        {
          "data": {"name": "one"},
          "mark": {"type": "text", "font": "Liberation Sans", "fontSize": 13, "color": "#cc3030", "align": "left", "baseline": "middle"},
          "encoding": {
            "x": {"datum": 353.8, "type": "quantitative"},
            "y": {"datum": 2.115, "type": "quantitative", "axis": null},
            "text": {"value": "40"}
          }
        },
        {
          "data": {"name": "one"},
          "mark": {"type": "rect", "fillOpacity": 0, "stroke": "#aa2222", "strokeWidth": 1},
          "encoding": {
            "x": {"datum": 350.4, "type": "quantitative"}, "x2": {"datum": 358},
            "y": {"datum": 1.985, "type": "quantitative", "axis": null}, "y2": {"datum": 1.727}
          }
        },
        {
          "data": {"name": "one"},
          "mark": {"type": "text", "font": "Liberation Sans", "fontSize": 13, "color": "#cc3030", "align": "left", "baseline": "middle"},
          "encoding": {
            "x": {"datum": 351, "type": "quantitative"},
            "y": {"datum": 1.858, "type": "quantitative", "axis": null},
            "text": {"value": "X10"}
          }
        },
        {
          "data": {"name": "one"},
          "mark": {"type": "text", "font": "Liberation Sans", "fontSize": 13, "color": "#cc3030", "align": "left", "baseline": "middle"},
          "encoding": {
            "x": {"datum": 354, "type": "quantitative"},
            "y": {"datum": 1.047, "type": "quantitative", "axis": null},
            "text": {"value": "60"}
          }
        },
        {
          "data": {"name": "one"},
          "mark": {"type": "point", "shape": "circle", "size": 170, "filled": true, "color": "#3c3c3c", "opacity": 1},
          "encoding": {
            "x": {"datum": 3.3, "type": "quantitative"},
            "y": {"datum": 2.648, "type": "quantitative", "axis": null}
          }
        },
        {
          "data": {"name": "one"},
          "mark": {"type": "point", "shape": "circle", "size": 170, "filled": true, "color": "#3c3c3c", "opacity": 1},
          "encoding": {
            "x": {"datum": 3.3, "type": "quantitative"},
            "y": {"datum": 1.522, "type": "quantitative", "axis": null}
          }
        },
        {
          "data": {"name": "one"},
          "mark": {"type": "text", "font": "DejaVu Sans", "fontSize": 9, "color": "#a0a0a0", "align": "center", "baseline": "middle"},
          "encoding": {
            "x": {"datum": 3.3, "type": "quantitative"},
            "y": {"datum": 2.648, "type": "quantitative", "axis": null},
            "text": {"value": "∨"}
          }
        },
        {
          "data": {"name": "one"},
          "mark": {"type": "text", "font": "DejaVu Sans", "fontSize": 9, "color": "#a0a0a0", "align": "center", "baseline": "middle"},
          "encoding": {
            "x": {"datum": 3.3, "type": "quantitative"},
            "y": {"datum": 1.522, "type": "quantitative", "axis": null},
            "text": {"value": "∨"}
          }
        }
      ]
    },
    {
      "layer": [
        {
          "data": {"name": "k"},
          "mark": {"type": "bar", "size": 2},
          "encoding": {
            "x": {"field": "t", "type": "quantitative"},
            "y": {"field": "v", "type": "quantitative", "scale": {"domain": [-8600000, 91400000], "nice": false, "zero": false}, "axis": null},
            "y2": {"datum": 0},
            "color": {"condition": {"test": "datum.c >= datum.o", "value": "#c02a2c"}, "value": "#56c8d8"}
          }
        },
        {
          "data": {"name": "one"},
          "mark": {"type": "rule", "color": "#7a1616", "strokeWidth": 1.2},
          "encoding": {
            "x": {"datum": 0, "type": "quantitative"}, "x2": {"datum": 350},
            "y": {"datum": 0, "type": "quantitative", "axis": null}
          }
        },
        {
          "data": {"name": "vma10"},
          "mark": {"type": "line", "color": "#dcd03c", "strokeWidth": 1.4, "interpolate": "monotone"},
          "encoding": {"x": {"field": "t", "type": "quantitative"}, "y": {"field": "v", "type": "quantitative", "axis": null}}
        },
        {
          "data": {"name": "vma5"},
          "mark": {"type": "line", "color": "#e8e8e8", "strokeWidth": 1.3, "interpolate": "monotone"},
          "encoding": {"x": {"field": "t", "type": "quantitative"}, "y": {"field": "v", "type": "quantitative", "axis": null}}
        }
      ]
    },
    {
      "layer": [
        {
          "data": {"name": "one"},
          "mark": {"type": "rect", "fill": "#000000", "stroke": "#5c5c5c", "strokeWidth": 1},
          "encoding": {
            "x": {"datum": 6.67, "type": "quantitative"}, "x2": {"datum": 62.67},
            "y": {"datum": -2.264, "type": "quantitative", "scale": {"domain": [-18.61, 12.23], "nice": false, "zero": false, "reverse": true}, "axis": null},
            "y2": {"datum": 11.8}
          }
        },
        {
          "data": {"name": "one"},
          "mark": {"type": "rect", "fill": "#d44f4b"},
          "encoding": {
            "x": {"datum": 7, "type": "quantitative"}, "x2": {"datum": 62.33},
            "y": {"datum": -2.2, "type": "quantitative", "axis": null}, "y2": {"datum": -0.907}
          }
        },
        {
          "data": {"name": "one"},
          "mark": {"type": "text", "font": "Noto Sans CJK SC", "fontSize": 14, "color": "#ffffff", "align": "left", "baseline": "middle"},
          "encoding": {
            "x": {"datum": 9, "type": "quantitative"},
            "y": {"datum": -1.55, "type": "quantitative", "axis": null},
            "text": {"value": "电投产融"}
          }
        },
        {
          "data": {"name": "one"},
          "mark": {"type": "text", "font": "DejaVu Sans", "fontSize": 17, "color": "#f2c4c4", "align": "center", "baseline": "middle"},
          "encoding": {
            "x": {"datum": 59, "type": "quantitative"},
            "y": {"datum": -1.55, "type": "quantitative", "axis": null},
            "text": {"value": "×"}
          }
        },
        {
          "data": {"name": "info"},
          "mark": {"type": "text", "font": "Noto Sans CJK SC", "fontSize": 13, "color": "#c4c4c4", "align": "right", "baseline": "middle"},
          "encoding": {
            "x": {"datum": 21.67, "type": "quantitative"},
            "y": {"field": "i", "type": "quantitative", "axis": null},
            "text": {"field": "name"}
          }
        },
        {
          "data": {"name": "info"},
          "mark": {"type": "text", "font": "Noto Sans CJK SC", "fontSize": 13, "align": "right", "baseline": "middle"},
          "encoding": {
            "x": {"datum": 61.67, "type": "quantitative"},
            "y": {"field": "i", "type": "quantitative", "axis": null},
            "text": {"field": "val"},
            "color": {"field": "tone", "type": "nominal", "legend": null,
              "scale": {"domain": ["plain", "flat", "down", "vol"], "range": ["#c4c4c4", "#ececec", "#3ccf3c", "#cfcf36"]}}
          }
        }
      ]
    }
  ]
}
